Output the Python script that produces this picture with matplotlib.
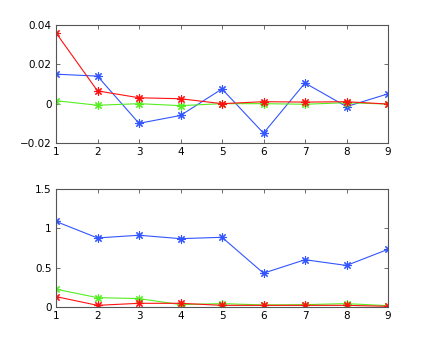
import matplotlib
matplotlib.use("Agg")
import matplotlib.pyplot as plt

x = [1, 2, 3, 4, 5, 6, 7, 8, 9]

# top panel
top_blue = [0.015, 0.014, -0.010, -0.006, 0.0075, -0.015, 0.0105, -0.0015, 0.005]
top_green = [0.0015, -0.0008, 0.0, -0.001, 0.0, 0.0, -0.0003, 0.0005, -0.0002]
top_red = [0.036, 0.0065, 0.003, 0.0025, 0.0, 0.001, 0.0008, 0.001, -0.0002]

# bottom panel
bot_blue = [1.087, 0.878, 0.912, 0.869, 0.886, 0.430, 0.601, 0.528, 0.733]
bot_green = [0.226, 0.119, 0.107, 0.030, 0.043, 0.026, 0.030, 0.043, 0.017]
bot_red = [0.132, 0.021, 0.047, 0.047, 0.021, 0.021, 0.021, 0.021, 0.009]

blue = '#3355ff'
green = '#55ee22'
red = '#ff1111'

fig = plt.figure(figsize=(4.29, 3.46), dpi=100)
W, H = 429, 346
ax1 = fig.add_axes([56 / W, 1 - 143 / H, 332 / W, 118 / H])
ax2 = fig.add_axes([56 / W, 1 - 307 / H, 332 / W, 118 / H])

def style(ax):
    for s in ax.spines.values():
        s.set_color('#555555')
        s.set_linewidth(0.8)
    ax.tick_params(direction='in', top=True, right=True, labelsize=7.5,
                   length=3, width=0.6, color='#555555', pad=3)
    ax.set_xlim(1, 9)
    ax.set_xticks(x)

# MATLAB-like asterisk marker
kw = dict(marker=(8, 2, 0), markersize=6, markeredgewidth=0.8, linewidth=0.8)
ax1.plot(x, top_blue, color=blue, **kw)
ax1.plot(x, top_green, color=green, **kw)
ax1.plot(x, top_red, color=red, **kw)
ax1.set_ylim(-0.02, 0.04)
ax1.set_yticks([-0.02, 0, 0.02, 0.04])
ax1.set_yticklabels(['\u22120.02', '0', '0.02', '0.04'])
style(ax1)

ax2.plot(x, bot_blue, color=blue, **kw)
ax2.plot(x, bot_green, color=green, **kw)
ax2.plot(x, bot_red, color=red, **kw)
ax2.set_ylim(0, 1.5)
ax2.set_yticks([0, 0.5, 1, 1.5])
ax2.set_yticklabels(['0', '0.5', '1', '1.5'])
style(ax2)

fig.savefig('out.png', dpi=100)
